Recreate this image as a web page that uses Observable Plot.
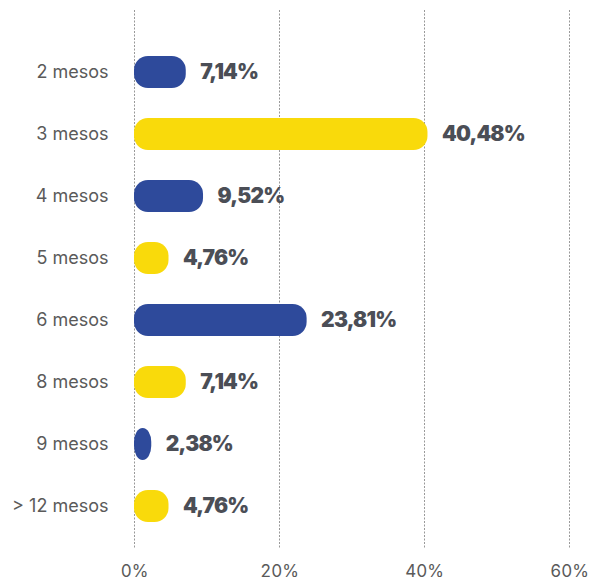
<!DOCTYPE html>
<html><head><meta charset="utf-8">
<script src="https://cdn.jsdelivr.net/npm/d3@7"></script>
<script src="https://cdn.jsdelivr.net/npm/@observablehq/plot@0.6"></script>
<style>body{margin:0;background:#fff}</style>
</head><body><div id="chart"></div>
<script>
const categories = ["2 mesos","3 mesos","4 mesos","5 mesos","6 mesos","8 mesos","9 mesos","> 12 mesos"];
const values = [7.14,40.48,9.52,4.76,23.81,7.14,2.38,4.76];
const labels = ["7,14%","40,48%","9,52%","4,76%","23,81%","7,14%","2,38%","4,76%"];
const groups = [0,1,0,1,0,1,0,1];
const colors = ["#2E4A9B","#F9DA0B"];
const xTicks = [0,20,40,60];
const xTickLabels = ["0%","20%","40%","60%"];
const data = categories.map((c,i)=>({category:c, value:values[i], label:labels[i], group:groups[i]}));
const chart = Plot.plot({
  width:590, height:580, marginLeft:134, marginRight:21, marginTop:10, marginBottom:32,
  style:{fontFamily:"Inter, sans-serif", background:"#fff", fontSize:"18px"},
  x:{domain:[0,60], label:null},
  y:{domain:categories, range:[40,537], padding:0, label:null},
  color:{type:"ordinal", domain:[0,1], range:colors},
  marks:[
    Plot.ruleX(xTicks, {stroke:"#999", strokeDasharray:"2,1.5"}),
    Plot.axisX({ticks:xTicks, tickFormat:(d)=>xTickLabels[xTicks.indexOf(d)], tickSize:0, tickPadding:16, fontSize:17, fill:"#5a5a5a", label:null}),
    Plot.axisY({tickSize:0, tickPadding:26, fontSize:18, fill:"#5a5a5a", label:null}),
    Plot.barX(data,{x:"value", y:"category", fill:"group", insetTop:15, insetBottom:15, rx:14}),
    Plot.text(data,{x:"value", y:"category", text:"label", textAnchor:"start", dx:14, fontSize:21, fontWeight:900, fill:"#4B4E56"})
  ]
});
chart.querySelectorAll("g[aria-label='text'] text").forEach(t=>t.style.letterSpacing="-0.8px");
document.getElementById("chart").appendChild(chart);
</script>
</body></html>
